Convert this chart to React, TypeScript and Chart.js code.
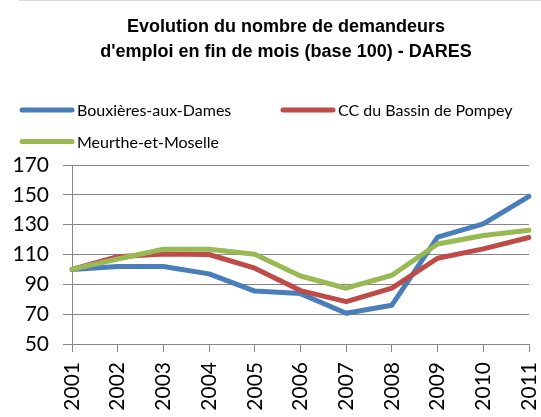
import React, { useEffect, useRef } from "react";
import { Chart, registerables } from "chart.js";

Chart.register(...registerables);

const years = ["2001", "2002", "2003", "2004", "2005", "2006", "2007", "2008", "2009", "2010", "2011"];
const bouxieres = [100, 102, 102, 97, 85.5, 83.8, 70.6, 76, 121.6, 130.5, 149];
const pompey = [100, 108.5, 110.4, 110, 100.8, 85.8, 78.4, 87.4, 107.5, 113.8, 121.4];
const meurthe = [100, 107, 113.5, 113.5, 110.2, 95.6, 87.4, 96.1, 117, 122.7, 126.2];
const seriesNames = ["Bouxières-aux-Dames", "CC du Bassin de Pompey", "Meurthe-et-Moselle"];
const seriesColors = ["#4A7EBB", "#BE4B48", "#98B954"];
const titleLines = ["Evolution du nombre de demandeurs", "d'emploi en fin de mois (base 100) - DARES"];

const decorPlugin = {
  id: "decor",
  afterDraw(chart: any) {
    const ctx = chart.ctx;
    ctx.save();
    // frame top line
    ctx.strokeStyle = "#d9d9d9";
    ctx.lineWidth = 1;
    ctx.beginPath();
    ctx.moveTo(19, 0.5);
    ctx.lineTo(541, 0.5);
    ctx.stroke();
    // title
    ctx.fillStyle = "#000";
    ctx.font = "bold 18px 'Liberation Sans', Arial, sans-serif";
    ctx.textAlign = "center";
    ctx.textBaseline = "alphabetic";
    ctx.fillText(titleLines[0], 286, 32);
    ctx.fillText(titleLines[1], 286, 57);
    // legend
    const items = [
      { x: 22, y: 110 },
      { x: 283, y: 110 },
      { x: 22, y: 141.5 },
    ];
    ctx.font = "16px Lato, sans-serif";
    ctx.textAlign = "left";
    ctx.textBaseline = "middle";
    items.forEach((p, i) => {
      ctx.strokeStyle = seriesColors[i];
      ctx.lineWidth = 5;
      ctx.lineCap = "round";
      ctx.beginPath();
      ctx.moveTo(p.x, p.y);
      ctx.lineTo(p.x + 50, p.y);
      ctx.stroke();
      ctx.fillStyle = "#000";
      ctx.fillText(seriesNames[i], p.x + 55, p.y + 1);
    });
    ctx.restore();
  },
};

export default function App() {
  const ref = useRef<HTMLCanvasElement>(null);
  useEffect(() => {
    document.body.style.margin = "0";
    const data = [bouxieres, pompey, meurthe];
    const chart = new Chart(ref.current as HTMLCanvasElement, {
      type: "line",
      data: {
        labels: years,
        datasets: data.map((d, i) => ({
          label: seriesNames[i],
          data: d,
          borderColor: seriesColors[i],
          backgroundColor: seriesColors[i],
          borderWidth: 5,
          pointRadius: 0,
          tension: 0,
          borderJoinStyle: "round" as const,
          borderCapStyle: "round" as const,
          order: 3 - i,
        })),
      },
      options: {
        animation: false,
        responsive: false,
        maintainAspectRatio: false,
        layout: { padding: { left: 0, top: 165, right: 12, bottom: 0 } },
        plugins: {
          legend: { display: false },
          title: { display: false },
          tooltip: { enabled: false },
        },
        scales: {
          x: {
            offset: false,
            grid: { drawOnChartArea: false, drawTicks: true, tickLength: 8, color: "#868686" },
            border: { color: "#868686", width: 1 },
            ticks: {
              minRotation: 90,
              maxRotation: 90,
              padding: 10,
              color: "#000",
              font: { family: "Lato, sans-serif", size: 21 },
              autoSkip: false,
            },
            afterFit: (scale: any) => {
              scale.height = 73;
              scale.paddingLeft = 0;
              scale.paddingRight = 0;
            },
          },
          y: {
            min: 50,
            max: 170,
            grid: { color: "#868686", tickLength: 9, lineWidth: 1 },
            border: { color: "#868686", width: 1 },
            ticks: {
              stepSize: 20,
              padding: 14,
              color: "#000",
              font: { family: "Lato, sans-serif", size: 21 },
            },
            afterFit: (scale: any) => {
              scale.width = 72;
              scale.paddingTop = 0;
              scale.paddingBottom = 0;
            },
          },
        },
      },
      plugins: [decorPlugin],
    });
    return () => chart.destroy();
  }, []);
  return (
    <div style={{ width: 541, height: 417, background: "#fff" }}>
      <canvas ref={ref} width={541} height={417} style={{ display: "block", width: 541, height: 417 }} />
    </div>
  );
}
